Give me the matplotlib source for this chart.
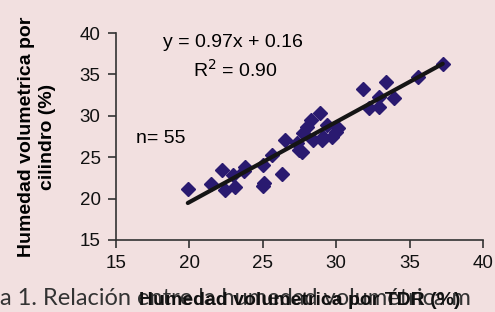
import matplotlib
matplotlib.use("Agg")
import matplotlib.pyplot as plt
import numpy as np

plt.rcParams['font.family'] = ['Liberation Sans', 'DejaVu Sans']

# humedad volumetrica por TDR (%) vs por cilindro (%)
tdr = [19.9, 21.5, 22.2, 22.4, 23.1, 23.0, 23.7, 23.8, 25.0, 25.1, 25.0,
       25.6, 26.3, 26.5, 27.3, 27.5, 27.7, 27.75, 28.0, 28.3, 28.4, 28.9,
       29.0, 29.1, 29.35, 29.7, 30.0, 30.1, 31.8, 32.2, 32.9, 32.9, 33.4,
       33.9, 35.6, 37.25]
cil = [21.2, 21.8, 23.5, 21.0, 21.4, 22.8, 23.3, 23.8, 24.1, 21.9, 21.5,
       25.3, 23.0, 27.1, 26.7, 25.9, 25.6, 27.9, 28.7, 29.5, 27.1, 30.4,
       27.1, 27.5, 28.9, 27.5, 28.1, 28.5, 33.3, 30.9, 31.1, 32.3, 34.1,
       32.1, 34.7, 36.3]
slope, intercept = 0.97, 0.16

xticks = [15, 20, 25, 30, 35, 40]
yticks = [15, 20, 25, 30, 35, 40]

bg = '#f2e0e0'
fig = plt.figure(figsize=(4.95, 3.12), dpi=100, facecolor=bg)
ax = fig.add_axes([0.234, 0.231, 0.742, 0.663], facecolor=bg)

ax.plot(tdr, cil, linestyle='none', marker='D', ms=6.8,
        color='#2a1a70', mec='#2a1a70', zorder=3)
lx = np.array([min(tdr), max(tdr)])
ax.plot(lx, slope * lx + intercept, color='#151515', lw=3, zorder=4,
        solid_capstyle='round')

ax.set_xlim(15, 40)
ax.set_ylim(15, 40)
ax.set_xticks(xticks)
ax.set_yticks(yticks)
for s in ['top', 'right']:
    ax.spines[s].set_visible(False)
for s in ['left', 'bottom']:
    ax.spines[s].set_color('#333333')
    ax.spines[s].set_linewidth(1.2)
ax.tick_params(direction='out', length=6, width=1.2, color='#333333',
               labelsize=13.5, labelcolor='#111111', pad=5)

ax.text(18.2, 38.9, 'y = 0.97x + 0.16', fontsize=14, va='center')
ax.text(20.25, 35.5, 'R$^2$ = 0.90', fontsize=14, va='center')
ax.text(16.4, 27.3, 'n= 55', fontsize=14, va='center')

ax.set_ylabel('Humedad volumetrica por\ncilindro (%)', fontsize=14,
              fontweight='bold', linespacing=1.3, labelpad=17)

# caption of the source figure, behind the x label
fig.text(0.0, 0.022, 'a 1. Relación entre la humedad volumétrica m',
         fontsize=17, family='Lato', color='#333333', zorder=1)
fig.text(0.605, 0.022, 'Humedad volumetrica por TDR (%)', fontsize=14,
         fontweight='bold', ha='center', color='#111111', zorder=2)

fig.savefig('out.png', dpi=100, facecolor=bg)
